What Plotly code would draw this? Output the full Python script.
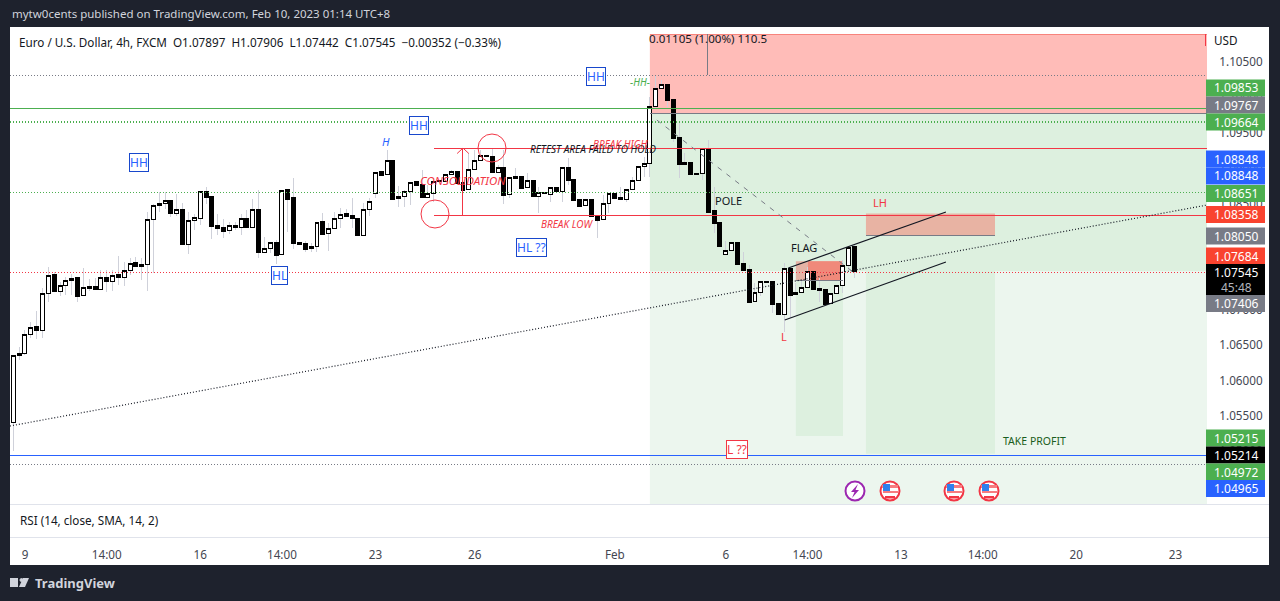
import plotly.graph_objects as go

opens = [1.05403,1.06350,1.06378,1.06646,1.06755,1.06703,1.07225,1.07489,1.07254,1.07338,
1.07409,1.07447,1.07197,1.07320,1.07320,1.07282,1.07456,1.07395,1.07489,1.07451,
1.07550,1.07659,1.07607,1.07635,1.08271,1.08468,1.08497,1.08548,1.08355,1.08421,
1.07917,1.08256,1.08285,1.08675,1.08591,1.08195,1.08153,1.08115,1.08195,1.08158,
1.08294,1.08158,1.08421,1.07804,1.07861,1.07955,1.07776,1.08690,1.08577,1.07941,
1.07927,1.07861,1.07889,1.08238,1.08073,1.08143,1.08285,1.08351,1.08336,1.08294,
1.08045,1.08412,1.08638,1.08944,1.08906,1.09113,1.08567,1.08595,1.08666,1.08803,
1.08774,1.08581,1.08642,1.08821,1.08807,1.08906,1.08957,1.08802,1.08694,1.08976,
1.09108,1.09183,1.09169,1.08934,1.09014,1.08623,1.08887,1.08887,1.08722,1.08830,
1.08595,1.08661,1.08623,1.08731,1.08666,1.09014,1.08844,1.08562,1.08468,1.08562,
1.08336,1.08270,1.08496,1.08647,1.08590,1.08553,1.08699,1.08821,1.09019,1.09061,
1.09866,1.10125,1.10186,1.09974,1.09438,1.09080,1.09080,1.08929,1.08920,1.09282,
1.08393,1.08237,1.07776,1.07832,1.07955,1.07658,1.07573,1.07112,1.07239,1.07404,
1.07390,1.07093,1.06928,1.07587,1.07211,1.07239,1.07310,1.07545,1.07305,1.07277,
1.07084,1.07225,1.07338,1.07620,1.07897]
closes = [1.06354,1.06383,1.06651,1.06750,1.06698,1.07230,1.07484,1.07249,1.07343,1.07414,
1.07442,1.07192,1.07315,1.07305,1.07277,1.07456,1.07390,1.07484,1.07447,1.07555,
1.07654,1.07602,1.07640,1.08275,1.08473,1.08501,1.08544,1.08351,1.08416,1.07913,
1.08261,1.08304,1.08671,1.08577,1.08181,1.08139,1.08110,1.08191,1.08153,1.08289,
1.08153,1.08416,1.07800,1.07866,1.07950,1.07771,1.08685,1.08562,1.07927,1.07913,
1.07856,1.07894,1.08233,1.08068,1.08148,1.08289,1.08346,1.08322,1.08280,1.08040,
1.08416,1.08529,1.08939,1.08901,1.09109,1.08562,1.08600,1.08671,1.08798,1.08760,
1.08577,1.08642,1.08812,1.08807,1.08910,1.08953,1.08788,1.08689,1.08981,1.09113,
1.09179,1.09160,1.08934,1.09009,1.08618,1.08868,1.08859,1.08717,1.08826,1.08595,
1.08656,1.08637,1.08727,1.08666,1.09009,1.08830,1.08548,1.08463,1.08557,1.08322,
1.08265,1.08501,1.08642,1.08576,1.08553,1.08703,1.08826,1.09023,1.09066,1.09871,
1.10125,1.10182,1.09960,1.09424,1.09056,1.09056,1.08915,1.08915,1.09278,1.08378,
1.08223,1.07898,1.07837,1.07955,1.07644,1.07559,1.07107,1.07244,1.07399,1.07376,
1.07079,1.06924,1.07583,1.07206,1.07244,1.07314,1.07540,1.07291,1.07267,1.07079,
1.07230,1.07343,1.07625,1.07884,1.07545]
highs = [1.06354,1.06477,1.06712,1.06830,1.06981,1.07301,1.07607,1.07536,1.07390,1.07465,
1.07503,1.07447,1.07588,1.07433,1.07447,1.07560,1.07560,1.07560,1.07757,1.07673,
1.07729,1.07743,1.07729,1.08374,1.08492,1.08661,1.08661,1.08548,1.08638,1.08506,
1.08374,1.08351,1.08671,1.08732,1.08591,1.08351,1.08285,1.08238,1.08238,1.08346,
1.08407,1.08562,1.08685,1.08021,1.07950,1.07983,1.08685,1.08690,1.08859,1.07941,
1.07969,1.07941,1.08233,1.08365,1.08219,1.08384,1.08440,1.08421,1.08577,1.08294,
1.08501,1.08572,1.08939,1.08944,1.09255,1.09113,1.08746,1.08690,1.08798,1.08803,
1.08972,1.08760,1.08812,1.08821,1.08910,1.08972,1.08957,1.09254,1.09207,1.09254,
1.09254,1.09183,1.09287,1.09042,1.09254,1.08868,1.08995,1.08887,1.08925,1.08830,
1.08736,1.08661,1.08736,1.08731,1.09009,1.09136,1.08844,1.08562,1.08557,1.08562,
1.08336,1.08618,1.08642,1.08647,1.08736,1.08703,1.08877,1.09023,1.09160,1.10007,
1.10313,1.10243,1.10186,1.09974,1.09631,1.09207,1.09080,1.08929,1.09278,1.09395,
1.08736,1.08237,1.07973,1.07955,1.07955,1.07818,1.07630,1.07371,1.07399,1.07404,
1.07390,1.07093,1.07653,1.07606,1.07371,1.07418,1.07606,1.07545,1.07441,1.07277,
1.07230,1.07343,1.07700,1.07884,1.07906]
lows = [1.05008,1.06288,1.06359,1.06594,1.06585,1.06599,1.07108,1.07249,1.07192,1.07211,
1.07211,1.07108,1.07197,1.07263,1.07277,1.07282,1.07249,1.07263,1.07352,1.07334,
1.07484,1.07602,1.07418,1.07263,1.07513,1.08379,1.08421,1.08308,1.08322,1.07913,
1.07786,1.08125,1.08195,1.08497,1.07997,1.08054,1.08012,1.08068,1.08125,1.08054,
1.08153,1.08158,1.07729,1.07804,1.07795,1.07644,1.07776,1.08096,1.07856,1.07913,
1.07814,1.07809,1.07814,1.08068,1.07828,1.08143,1.08148,1.08322,1.08148,1.08040,
1.08045,1.08318,1.08572,1.08901,1.08906,1.08562,1.08454,1.08445,1.08478,1.08760,
1.08577,1.08581,1.08524,1.08807,1.08807,1.08906,1.08788,1.08548,1.08694,1.08976,
1.09108,1.09160,1.08934,1.08934,1.08491,1.08571,1.08859,1.08717,1.08722,1.08595,
1.08360,1.08637,1.08524,1.08666,1.08524,1.08760,1.08548,1.08463,1.08468,1.08322,
1.08016,1.08270,1.08360,1.08576,1.08553,1.08524,1.08699,1.08821,1.08877,1.08877,
1.09843,1.10125,1.09866,1.09372,1.08854,1.09056,1.08915,1.08915,1.08830,1.08378,
1.08077,1.07898,1.07776,1.07832,1.07644,1.07559,1.07088,1.07112,1.07192,1.07376,
1.06947,1.06924,1.06688,1.06877,1.07211,1.07239,1.07310,1.07291,1.07112,1.07079,
1.07084,1.07225,1.07230,1.07559,1.07442]
bars = list(range(len(opens)))
tick_bars = [2, 16, 32, 46, 62, 79, 103, 122, 136, 152, 166, 182, 199]
tick_labels = ["9", "14:00", "16", "14:00", "23", "26", "Feb", "6", "14:00", "13", "14:00", "20", "23"]
price_labels = [("1.09853", 88, "#4caf50"), ("1.09767", 105, "#787b86"), ("1.09664", 122, "#4caf50"),
                ("1.08848", 159, "#2962ff"), ("1.08848", 176, "#2962ff"), ("1.08651", 193.5, "#4caf50"),
                ("1.08358", 214.5, "#f9432f"), ("1.08050", 236, "#787b86"), ("1.07684", 256, "#f9432f"),
                ("1.07406", 303.5, "#787b86"), ("1.05215", 438, "#4caf50"), ("1.05214", 455, "#000000"),
                ("1.04972", 472, "#4caf50"), ("1.04965", 488.5, "#2962ff")]

W, H = 1280, 601
FONT = "Noto Sans"
DARK = "#1e222d"
DOT = "1px,2px"
PX0, PX1, PY0, PY1 = 10, 1207, 27, 504
XMIN, XMAX = -0.565, 204.4
YMIN, YMAX = 1.04254, 1.10992

def px(x): return x / W
def py(y): return 1 - y / H

shapes, notes = [], []
def rect(x0, y0, x1, y1, color, layer="below", line=None):
    shapes.append(dict(type="rect", xref="paper", yref="paper", x0=px(x0), x1=px(x1), y0=py(y0), y1=py(y1),
                       fillcolor=color, line=dict(width=0 if line is None else 1, color=line or color), layer=layer))
def drect(x0, y0, x1, y1, color, line=None):
    shapes.append(dict(type="rect", xref="x", yref="y", x0=x0, x1=x1, y0=y0, y1=y1, fillcolor=color,
                       line=dict(width=0 if line is None else 1, color=line or color), layer="below"))
def dline(x0, y0, x1, y1, color, width=1, dash="solid"):
    shapes.append(dict(type="line", xref="x", yref="y", x0=x0, x1=x1, y0=y0, y1=y1,
                       line=dict(color=color, width=width, dash=dash), layer="above"))
def circle(cx, cy, r, color, fill="rgba(0,0,0,0)", width=1):
    shapes.append(dict(type="circle", xref="paper", yref="paper", x0=px(cx - r), x1=px(cx + r), y0=py(cy + r), y1=py(cy - r),
                       line=dict(color=color, width=width), fillcolor=fill, layer="above"))
def path(points, color):
    d = " ".join(("M" if i == 0 else "L") + f" {px(x)} {py(y)}" for i, (x, y) in enumerate(points)) + " Z"
    shapes.append(dict(type="path", xref="paper", yref="paper", layer="above", fillcolor=color, line=dict(width=0), path=d))
def text(t, x, y, color="#131722", size=11.6, anchor="center", **kw):
    notes.append(dict(text=t, xref="paper", yref="paper", x=px(x), y=py(y), xanchor=anchor, yanchor="middle",
                      showarrow=False, font=dict(family=FONT, size=size, color=color), **kw))

# panels
rect(10, 27, 1269, 565, "#ffffff")
rect(10, 504, 1269, 505, "#e0e3eb")
rect(10, 537, 1269, 538, "#e0e3eb")

# position tool areas and zones
drect(109, 1.10893, XMAX, 1.09767, "#ffbcb8")
drect(109, 1.09767, XMAX, 1.07545, "#ddf0df")
drect(109, 1.07545, XMAX, YMIN, "#ecf6ee")
drect(134, 1.07545, 142.07, 1.05215, "#ddf0df")
drect(146, 1.0805, 168.1, 1.04965, "#ddf0df")
drect(146, 1.08358, 168.1, 1.0805, "#e8b3a3")
drect(134, 1.07684, 142.07, 1.07406, "#e5b3a5")
drect(136.07, 1.07684, 142.07, 1.07406, "#f0897a")

# horizontal levels
dline(XMIN, 1.10313, XMAX, 1.10313, "#787b86", 1, DOT)
dline(XMIN, 1.09843, XMAX, 1.09843, "#4caf50", 1.3)
dline(XMIN, 1.09650, XMAX, 1.09650, "#4caf50", 1.3, DOT)
dline(72, 1.09282, XMAX, 1.09282, "#f23645", 1)
dline(XMIN, 1.08651, XMAX, 1.08651, "#4caf50", 1, DOT)
dline(72, 1.08336, XMAX, 1.08336, "#f23645", 1)
dline(XMIN, 1.07531, XMAX, 1.07531, "#f23645", 1, DOT)
dline(XMIN, 1.04946, XMAX, 1.04946, "#2962ff", 1)
dline(XMIN, 1.04805, XMAX, 1.04805, "#787b86", 1, DOT)
dline(109, 1.09767, XMAX, 1.09767, "#787b86", 1)
dline(109, 1.10893, XMAX, 1.10893, "#f7837c", 1)
dline(XMAX - 0.2, 1.10893, XMAX - 0.2, 1.1072, "#f23645", 1)
dline(118.95, 1.10893, 118.95, 1.10313, "#787b86", 1)
dline(146, 1.0805, 168.1, 1.0805, "#787b86", 1)
dline(134, 1.07406, 142.07, 1.07406, "#787b86", 1)
# trend lines
dline(XMIN, 1.05356, XMAX, 1.08477, "#131722", 1.2, DOT)
dline(110.2, 1.09678, 143.8, 1.07531, "#787b86", 1, "5px,6px")
dline(132.7, 1.07588, 159.7, 1.08379, "#131722", 1.2)
dline(132.1, 1.06853, 159.7, 1.07672, "#131722", 1.2)
# arrow
dline(77, 1.08336, 77, 1.09282, "#f23645", 1)
dline(76, 1.09205, 77, 1.09282, "#f23645", 1)
dline(78, 1.09205, 77, 1.09282, "#f23645", 1)
circle(435, 214, 14, "#f23645")
circle(492, 148, 14, "#f23645")

# text drawings
text("<i>CONSOLIDATION</i>", 463, 181, "#f23645", 11.5)
text("<i>RETEST AREA FAILD TO HOLD</i>", 593, 149, "#131722", 10)
text("<i>BREAK HIGH</i>", 620, 144, "#f23645", 10)
text("<i>BREAK LOW</i>", 567, 224, "#f23645", 10)
text("<i>H</i>", 386, 141, "#2962ff", 11)
text("<i>-HH-</i>", 640, 82, "#4caf50", 10)
text("POLE", 728, 201, "#131722", 11)
text("FLAG", 804, 247, "#131722", 11)
text("L", 784, 337, "#f23645", 11)
text("LH", 880, 203, "#f23645", 11)
text("TAKE PROFIT", 1034, 441, "#1b5e20", 10.5)
text("0.01105 (1.00%) 110.5", 708, 39, "#131722", 11.6)
for t, x, y in [("HH", 139, 162), ("HH", 419, 125), ("HH", 596, 76), ("HL", 279, 275), ("HL ??", 531, 247)]:
    text(t, x, y, "#2962ff", 12, bgcolor="#ffffff", bordercolor="#1848cc", borderwidth=1, borderpad=0)
text("L ??", 737, 449, "#f23645", 12, bgcolor="#ffffff", bordercolor="#f23645", borderwidth=1, borderpad=0)

# event icons
circle(855, 491, 9.5, "#9c27b0", "#ffffff", 2)
path([(858, 484), (851, 492), (854.5, 492), (852, 498), (859, 490), (855.5, 490)], "#9c27b0")
for cx in (890, 954, 989):
    circle(cx, 491, 9.5, "#f23645", "#ffffff", 2)
    rect(cx - 8, 485, cx + 8, 488, "#f77c80", "above")
    rect(cx - 7, 491, cx + 8, 493, "#f77c80", "above")
    rect(cx - 5, 496, cx + 5, 498.5, "#f23645", "above")
    rect(cx - 7, 484, cx, 491, "#2f80ed", "above")

# header / footer / legend
text("mytw0cents published on TradingView.com, Feb 10, 2023 01:14 UTC+8", 10, 14, "#d1d4dc", 11.5, "left")
text("Euro / U.S. Dollar, 4h, FXCM  O1.07897  H1.07906  L1.07442  C1.07545  −0.00352 (−0.33%)", 17, 42, "#131722", 11.7, "left")
text("RSI (14, close, SMA, 14, 2)", 18, 520, "#131722", 11.7, "left")
text("USD", 1226, 40, "#131722", 11.7)
text("<b>TradingView</b>", 33, 583, "#d1d4dc", 13, "left")
rect(10, 578, 18, 587, "#d1d4dc")
circle(21.5, 580, 1.5, "#d1d4dc", "#d1d4dc")
path([(23, 578), (29, 578), (25, 587), (19, 587)], "#d1d4dc")

# price labels
for t, y, c in price_labels:
    rect(1206, y - 8.5, 1265, y + 8.5, c, "above")
    text(t, 1236, y, "#ffffff", 12)
rect(1206, 264, 1265, 295, "#000000", "above")
text("1.07545", 1236, 272, "#ffffff", 12)
text("45:48", 1236, 287, "#b2b5be", 12)

fig = go.Figure()
fig.add_trace(go.Candlestick(x=bars, open=opens, high=highs, low=lows, close=closes, whiskerwidth=0,
                             increasing=dict(line=dict(color="#cfd1da", width=1), fillcolor="#cfd1da"),
                             decreasing=dict(line=dict(color="#cfd1da", width=1), fillcolor="#cfd1da"),
                             hoverinfo="skip", showlegend=False))
body_hi = [max(o, c) for o, c in zip(opens, closes)]
body_lo = [min(o, c) for o, c in zip(opens, closes)]
fig.add_trace(go.Candlestick(x=bars, open=opens, high=body_hi, low=body_lo, close=closes, whiskerwidth=0,
                             increasing=dict(line=dict(color="#000000", width=1), fillcolor="#ffffff"),
                             decreasing=dict(line=dict(color="#000000", width=1), fillcolor="#000000"),
                             hoverinfo="skip", showlegend=False))
fig.update_layout(
    width=W, height=H, autosize=False, margin=dict(l=0, r=0, t=0, b=0),
    paper_bgcolor=DARK, plot_bgcolor="rgba(0,0,0,0)", showlegend=False, boxgap=0.32, boxgroupgap=0, boxmode="overlay",
    font=dict(family=FONT, size=12, color="#131722"), shapes=shapes, annotations=notes,
    xaxis=dict(domain=[px(PX0), px(PX1)], range=[XMIN, XMAX], rangeslider=dict(visible=False), anchor="free",
               position=py(537), tickmode="array", tickvals=tick_bars, ticktext=tick_labels, showgrid=False,
               zeroline=False, showline=False, ticks="outside", ticklen=7, tickcolor="rgba(0,0,0,0)",
               tickfont=dict(family=FONT, size=11.7, color="#434651")),
    yaxis=dict(domain=[py(PY1), py(PY0)], range=[YMIN, YMAX], side="right", dtick=0.005, tick0=1.05,
               tickformat=".5f", showgrid=False, zeroline=False, showline=False, ticks="outside", ticklen=9,
               tickcolor="rgba(0,0,0,0)", tickfont=dict(family=FONT, size=11.7, color="#434651")),
)
POST = """
document.body.style.margin='0';
document.documentElement.style.background='#1e222d';
document.body.style.overflow='hidden';
function crisp(){
  document.querySelectorAll('.boxes path').forEach(function(p){p.style.shapeRendering='crispEdges';});
  document.querySelectorAll('.shapelayer path').forEach(function(p){
    var n=(p.getAttribute('d')||'').match(/-?[0-9.]+/g);
    if(n&&n.length===4&&(Math.abs(n[1]-n[3])<0.01||Math.abs(n[0]-n[2])<0.01)){p.style.shapeRendering='crispEdges';}
  });
}
crisp();
"""
fig.write_html("out.html", post_script=POST, config=dict(displayModeBar=False, staticPlot=True))
